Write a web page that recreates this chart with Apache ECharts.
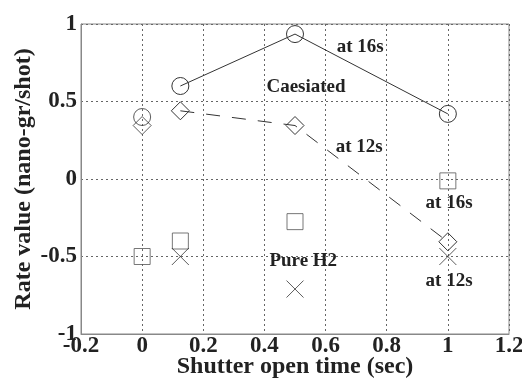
<!DOCTYPE html>
<html><head><meta charset="utf-8">
<script src="https://cdn.jsdelivr.net/npm/echarts@6/dist/echarts.min.js"></script>
<style>html,body{margin:0;padding:0;background:#fff}#c{width:522px;height:383px}</style>
</head><body><div id="c"></div>
<script>
const caesiated16 = [[0, 0.40]];
const caesiated16Line = [[0.125, 0.60], [0.5, 0.935], [1.0, 0.42]];
const caesiated12Single = [[0, 0.345]];
const caesiated12Line = [[0.125, 0.44], [0.5, 0.345], [1.0, -0.405]];
const pureH2_16 = [[0, -0.50], [0.125, -0.40], [0.5, -0.275], [1.0, -0.012]];
const pureH2_12 = [[0.125, -0.50], [0.5, -0.71], [1.0, -0.50]];
const annotations = [
  ['at 16s', 0.713, 0.85],
  ['Caesiated', 0.536, 0.594],
  ['at 12s', 0.71, 0.206],
  ['at 16s', 1.004, -0.155],
  ['Pure H2', 0.527, -0.53],
  ['at 12s', 1.004, -0.658]
];
const xTicks = [-0.2, 0, 0.2, 0.4, 0.6, 0.8, 1, 1.2];
const yTicks = [-1, -0.5, 0, 0.5, 1];

const font = '"Liberation Serif", "Times New Roman", serif';
const crossPath = 'path://M0,0L10,10M10,0L0,10';
const markerStyle = {color: 'none', borderColor: '#333', borderWidth: 1};

const chart = echarts.init(document.getElementById('c'));
chart.setOption({
  animation: false,
  grid: {left: 81, right: 13, top: 24, bottom: 49, containLabel: false, outerBoundsMode: 'none',
    show: true, borderColor: '#888', borderWidth: 1},
  xAxis: {
    type: 'value', min: -0.2, max: 1.2, interval: 0.2,
    name: 'Shutter open time (sec)', nameLocation: 'middle', nameGap: 21, nameMoveOverlap: false,
    nameTextStyle: {fontFamily: font, fontWeight: 'bold', fontSize: 24, color: '#222'},
    axisLine: {show: true, onZero: false, lineStyle: {color: '#888'}},
    axisTick: {show: false},
    axisLabel: {fontFamily: font, fontWeight: 'bold', fontSize: 23, color: '#222', margin: 1,
      formatter: v => { const t = xTicks.find(x => Math.abs(x - v) < 1e-6); return t === undefined ? '' : String(t); }},
    splitLine: {show: true, lineStyle: {color: '#666', type: [2, 3], width: 1}}
  },
  yAxis: {
    type: 'value', min: -1, max: 1, interval: 0.5,
    name: 'Rate value (nano-gr/shot)', nameLocation: 'middle', nameGap: 45, nameMoveOverlap: false,
    nameTextStyle: {fontFamily: font, fontWeight: 'bold', fontSize: 24, color: '#222'},
    axisLine: {show: true, onZero: false, lineStyle: {color: '#888'}},
    axisTick: {show: false},
    axisLabel: {fontFamily: font, fontWeight: 'bold', fontSize: 23, color: '#222', margin: 4,
      verticalAlignMinLabel: 'middle', verticalAlignMaxLabel: 'middle',
      formatter: v => { const t = yTicks.find(x => Math.abs(x - v) < 1e-6); return t === undefined ? '' : String(t); }},
    splitLine: {show: true, lineStyle: {color: '#666', type: [2, 3], width: 1}}
  },
  series: [
    {type: 'scatter', data: caesiated16, symbol: 'circle', symbolSize: 17, itemStyle: markerStyle, z: 3},
    {type: 'line', data: caesiated16Line, symbol: 'circle', symbolSize: 17, showSymbol: true,
      lineStyle: {color: '#333', width: 1}, itemStyle: markerStyle, z: 3},
    {type: 'scatter', data: caesiated12Single, symbol: 'diamond', symbolSize: 18, itemStyle: markerStyle, z: 3},
    {type: 'line', data: caesiated12Line, symbol: 'diamond', symbolSize: 18, showSymbol: true,
      lineStyle: {color: '#333', width: 1, type: [14, 12]}, itemStyle: markerStyle, z: 3},
    {type: 'scatter', data: pureH2_16, symbol: 'rect', symbolSize: 16, itemStyle: {color: 'none', borderColor: '#555', borderWidth: 1}, z: 3},
    {type: 'scatter', data: pureH2_12, symbol: crossPath, symbolSize: 17, itemStyle: markerStyle, z: 3},
    {type: 'scatter', data: annotations.map(a => ({value: [a[1], a[2]], name: a[0]})), symbol: 'circle', symbolSize: 1,
      itemStyle: {opacity: 0},
      label: {show: true, position: 'inside', formatter: p => p.name, fontFamily: font, fontWeight: 'bold', fontSize: 19, color: '#222', opacity: 1}, z: 4}
  ]
});
</script></body></html>
